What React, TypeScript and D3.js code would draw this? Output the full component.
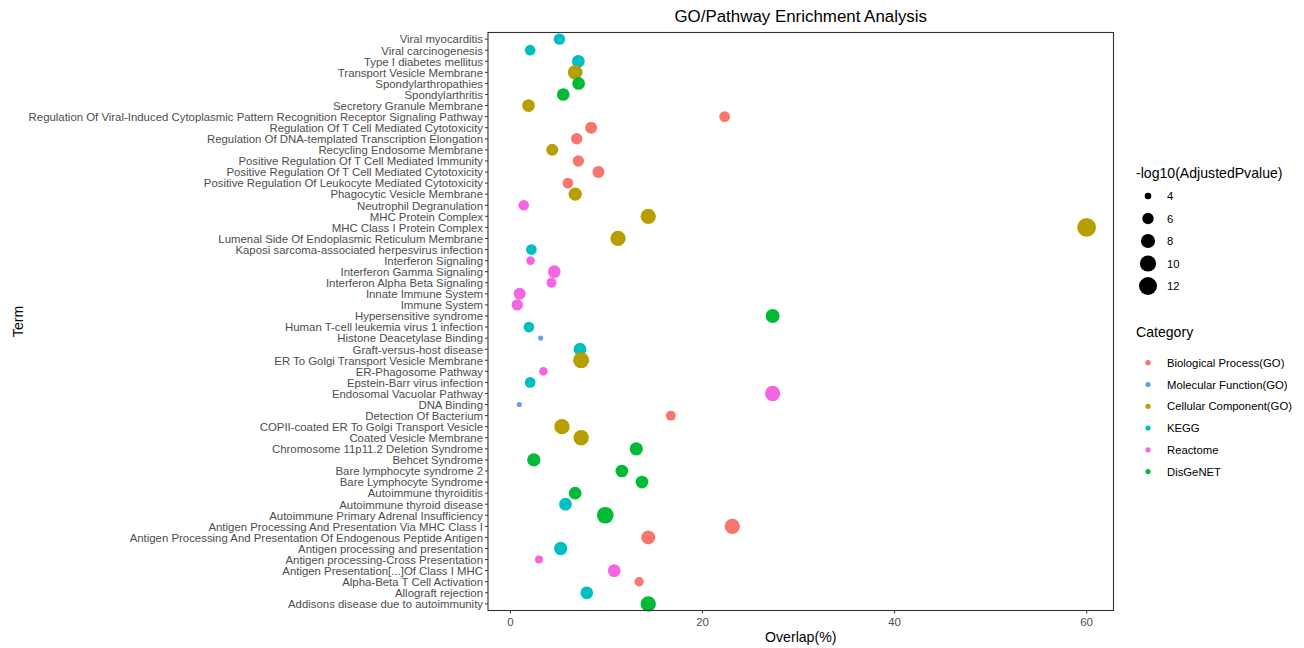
import React from "react";
import * as d3 from "d3";

// ---- data (display order, top to bottom) ----
const terms: string[] = [
  "Viral myocarditis",
  "Viral carcinogenesis",
  "Type I diabetes mellitus",
  "Transport Vesicle Membrane",
  "Spondylarthropathies",
  "Spondylarthritis",
  "Secretory Granule Membrane",
  "Regulation Of Viral-Induced Cytoplasmic Pattern Recognition Receptor Signaling Pathway",
  "Regulation Of T Cell Mediated Cytotoxicity",
  "Regulation Of DNA-templated Transcription Elongation",
  "Recycling Endosome Membrane",
  "Positive Regulation Of T Cell Mediated Immunity",
  "Positive Regulation Of T Cell Mediated Cytotoxicity",
  "Positive Regulation Of Leukocyte Mediated Cytotoxicity",
  "Phagocytic Vesicle Membrane",
  "Neutrophil Degranulation",
  "MHC Protein Complex",
  "MHC Class I Protein Complex",
  "Lumenal Side Of Endoplasmic Reticulum Membrane",
  "Kaposi sarcoma-associated herpesvirus infection",
  "Interferon Signaling",
  "Interferon Gamma Signaling",
  "Interferon Alpha Beta Signaling",
  "Innate Immune System",
  "Immune System",
  "Hypersensitive syndrome",
  "Human T-cell leukemia virus 1 infection",
  "Histone Deacetylase Binding",
  "Graft-versus-host disease",
  "ER To Golgi Transport Vesicle Membrane",
  "ER-Phagosome Pathway",
  "Epstein-Barr virus infection",
  "Endosomal Vacuolar Pathway",
  "DNA Binding",
  "Detection Of Bacterium",
  "COPII-coated ER To Golgi Transport Vesicle",
  "Coated Vesicle Membrane",
  "Chromosome 11p11.2 Deletion Syndrome",
  "Behcet Syndrome",
  "Bare lymphocyte syndrome 2",
  "Bare Lymphocyte Syndrome",
  "Autoimmune thyroiditis",
  "Autoimmune thyroid disease",
  "Autoimmune Primary Adrenal Insufficiency",
  "Antigen Processing And Presentation Via MHC Class I",
  "Antigen Processing And Presentation Of Endogenous Peptide Antigen",
  "Antigen processing and presentation",
  "Antigen processing-Cross Presentation",
  "Antigen Presentation[...]Of Class I MHC",
  "Alpha-Beta T Cell Activation",
  "Allograft rejection",
  "Addisons disease due to autoimmunity",
];

const termCategory: string[] = [
  "KEGG", "KEGG", "KEGG", "CC", "DisGeNET", "DisGeNET", "CC", "BP", "BP", "BP",
  "CC", "BP", "BP", "BP", "CC", "Reactome", "CC", "CC", "CC", "KEGG",
  "Reactome", "Reactome", "Reactome", "Reactome", "Reactome", "DisGeNET", "KEGG", "MF", "KEGG", "CC",
  "Reactome", "KEGG", "Reactome", "MF", "BP", "CC", "CC", "DisGeNET", "DisGeNET", "DisGeNET",
  "DisGeNET", "DisGeNET", "KEGG", "DisGeNET", "BP", "BP", "KEGG", "Reactome", "Reactome", "BP",
  "KEGG", "DisGeNET",
];

const overlap: number[] = [
  5.1, 2.05, 7.07, 6.74, 7.1, 5.5, 1.88, 22.3, 8.4, 6.9,
  4.35, 7.07, 9.16, 5.98, 6.74, 1.38, 14.35, 60.0, 11.2, 2.18,
  2.09, 4.56, 4.27, 0.96, 0.71, 27.3, 1.92, 3.14, 7.24, 7.36,
  3.43, 2.05, 27.3, 0.92, 16.7, 5.36, 7.36, 13.1, 2.43, 11.6,
  13.7, 6.74, 5.73, 9.87, 23.1, 14.35, 5.23, 2.97, 10.8, 13.4,
  7.95, 14.35,
];

const negLog10P: number[] = [
  6.0, 5.6, 6.9, 8.5, 6.9, 6.9, 6.9, 5.6, 6.4, 6.0,
  6.4, 6.0, 6.4, 5.6, 7.35, 5.6, 9.1, 12.8, 9.1, 5.6,
  4.6, 6.9, 5.2, 6.4, 6.0, 7.9, 5.6, 3.75, 6.9, 9.8,
  4.6, 5.6, 9.1, 3.75, 5.2, 9.1, 9.1, 7.35, 7.35, 6.9,
  6.9, 6.9, 6.9, 10.5, 9.1, 7.9, 7.35, 4.4, 6.9, 4.9,
  6.9, 9.1,
];

const categoryKeys: string[] = ["BP", "MF", "CC", "KEGG", "Reactome", "DisGeNET"];
const categoryLabels: string[] = [
  "Biological Process(GO)",
  "Molecular Function(GO)",
  "Cellular Component(GO)",
  "KEGG",
  "Reactome",
  "DisGeNET",
];
const categoryColors: string[] = ["#F8766D", "#619CFF", "#B79F00", "#00BFC4", "#F564E3", "#00BA38"];

const xTicks: number[] = [0, 20, 40, 60];
const sizeBreaks: number[] = [4, 6, 8, 10, 12];

// ---- layout ----
const W = 1304;
const H = 648;
const panel = { left: 488, right: 1113.5, top: 32.5, bottom: 610.5 };
const FONT = "'Liberation Sans', Arial, Helvetica, sans-serif";
const TICK_FS = 11.4;

export default function App() {
  const x = d3.scaleLinear().domain([-2.34, 62.8]).range([panel.left, panel.right]);
  const y = d3
    .scalePoint<string>()
    .domain(terms)
    .range([panel.top, panel.bottom])
    .padding(0.6);
  const color = d3.scaleOrdinal<string, string>().domain(categoryKeys).range(categoryColors);
  const sizeMin = 3.7;
  const diam = d3.scaleSqrt().domain([0, 9.5]).range([0, 15]).clamp(true);
  const r = (v: number) => (4 + diam(Math.max(0, v - sizeMin))) / 2;

  const points = terms.map((t, i) => ({
    term: t,
    cat: termCategory[i],
    x: overlap[i],
    p: negLog10P[i],
  }));

  const panelCx = (panel.left + panel.right) / 2;
  const panelCy = (panel.top + panel.bottom) / 2;

  const sizeLegendY = [196, 218.5, 241, 263.5, 286];
  const catLegendY = [362.7, 384.5, 406.3, 428, 449.8, 471.6];

  return (
    <svg width={W} height={H} style={{ position: "absolute", left: 0, top: 0, background: "#fff" }} fontFamily={FONT}>
      <rect x={0} y={0} width={W} height={H} fill="#fff" />
      {/* title */}
      <text x={panelCx} y={22} textAnchor="middle" fontSize={16.9} fill="#000">
        GO/Pathway Enrichment Analysis
      </text>

      {/* y axis ticks and labels */}
      {terms.map((t) => (
        <g key={t}>
          <line x1={panel.left - 3} x2={panel.left} y1={y(t)!} y2={y(t)!} stroke="#333" strokeWidth={1} />
          <text x={panel.left - 5} y={y(t)!} dy="0.38em" textAnchor="end" fontSize={TICK_FS} fill="#4D4D4D">
            {t}
          </text>
        </g>
      ))}

      {/* x axis ticks and labels */}
      {xTicks.map((v) => (
        <g key={v}>
          <line x1={x(v)} x2={x(v)} y1={panel.bottom} y2={panel.bottom + 3} stroke="#333" strokeWidth={1} />
          <text x={x(v)} y={panel.bottom + 15} textAnchor="middle" fontSize={TICK_FS} fill="#4D4D4D">
            {v}
          </text>
        </g>
      ))}

      {/* points */}
      {points.map((d) => (
        <circle key={d.term} cx={x(d.x)} cy={y(d.term)!} r={r(d.p)} fill={color(d.cat)} />
      ))}

      {/* panel border */}
      <rect
        x={panel.left}
        y={panel.top}
        width={panel.right - panel.left}
        height={panel.bottom - panel.top}
        fill="none"
        stroke="#333"
        strokeWidth={1.1}
      />

      {/* axis titles */}
      <text x={panelCx} y={642} textAnchor="middle" fontSize={14.1} fill="#000">
        Overlap(%)
      </text>
      <text
        transform={`translate(${23},${panelCy}) rotate(-90)`}
        textAnchor="middle"
        fontSize={14.1}
        fill="#000"
      >
        Term
      </text>

      {/* size legend */}
      <text x={1136} y={178} fontSize={14.1} fill="#000">
        -log10(AdjustedPvalue)
      </text>
      {sizeBreaks.map((v, i) => (
        <g key={v}>
          <circle cx={1148} cy={sizeLegendY[i]} r={r(v)} fill="#000" />
          <text x={1167} y={sizeLegendY[i]} dy="0.36em" fontSize={11.3} fill="#000">
            {v}
          </text>
        </g>
      ))}

      {/* category legend */}
      <text x={1136} y={336.5} fontSize={14.1} fill="#000">
        Category
      </text>
      {categoryKeys.map((k, i) => (
        <g key={k}>
          <circle cx={1148} cy={catLegendY[i]} r={2.6} fill={color(k)} />
          <text x={1167} y={catLegendY[i]} dy="0.36em" fontSize={11.3} fill="#000">
            {categoryLabels[i]}
          </text>
        </g>
      ))}
    </svg>
  );
}
